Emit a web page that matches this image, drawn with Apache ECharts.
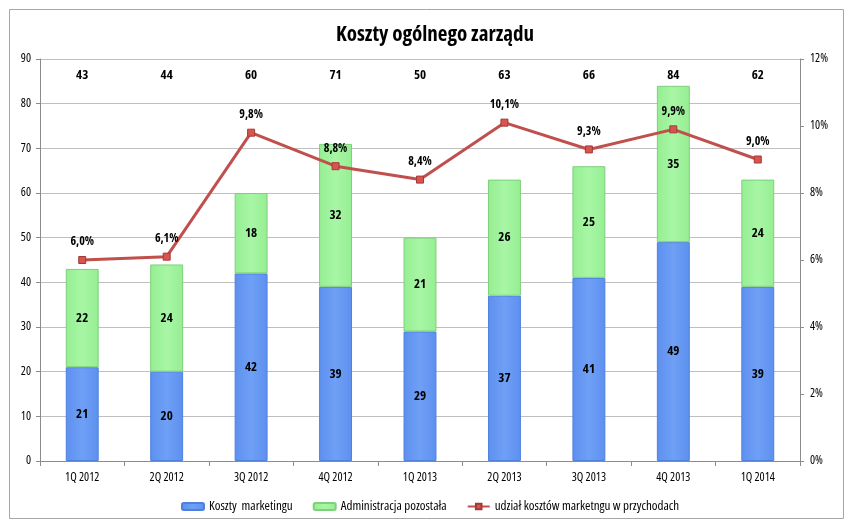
<!DOCTYPE html>
<html>
<head>
<meta charset="utf-8">
<script src="https://cdn.jsdelivr.net/npm/echarts@6/dist/echarts.min.js"></script>
<style>
html,body{margin:0;padding:0;background:#fff;}
#c{width:848px;height:521px;}
</style>
</head>
<body>
<div id="c"></div>
<script>
const categories = ['1Q 2012','2Q 2012','3Q 2012','4Q 2012','1Q 2013','2Q 2013','3Q 2013','4Q 2013','1Q 2014'];
const marketing = [21, 20, 42, 39, 29, 37, 41, 49, 39];
const admin = [22, 24, 18, 32, 21, 26, 25, 35, 24];
const totals = [43, 44, 60, 71, 50, 63, 66, 84, 62];
const share = [6.0, 6.1, 9.8, 8.8, 8.4, 10.1, 9.3, 9.9, 9.0];
const leftTicks = [0, 90, 10];
const rightTicks = [0, 12, 2];

const TOTAL_ROW = 86.4; // height (axis units) where the totals row of labels sits
const FONT = "'Open Sans', sans-serif";
const ST = 'condensed'; // font-stretch keyword passed through the font shorthand

const chart = echarts.init(document.getElementById('c'), null, {renderer:'canvas'});
chart.setOption({
  animation:false,
  backgroundColor:'#ffffff',
  textStyle:{fontFamily:FONT, fontStyle:ST},
  graphic:[{
    type:'rect', shape:{x:9.5,y:9.5,width:834,height:509},
    style:{fill:'none', stroke:'#a6a6a6', lineWidth:1}, z:-10
  }],
  title:{
    text:'Koszty ogólnego zarządu', left:430, textAlign:'center', top:20,
    textStyle:{fontFamily:FONT, fontStyle:ST, fontSize:21, fontWeight:'bold', color:'#000'}
  },
  legend:{
    left:176, top:495, itemWidth:22, itemHeight:7, itemGap:20,
    textStyle:{fontFamily:FONT, fontStyle:ST, fontSize:13, color:'#000'},
    data:[{name:'Koszty  marketingu'},{name:'Administracja pozostała'},{name:'udział kosztów marketngu w przychodach'}]
  },
  grid:{left:40, right:48, top:59, bottom:60},
  xAxis:{
    type:'category', data:categories, boundaryGap:true,
    axisLine:{lineStyle:{color:'#8c8c8c'}},
    axisTick:{show:true, length:5, alignWithLabel:false, lineStyle:{color:'#8c8c8c'}},
    axisLabel:{fontFamily:FONT, fontStyle:ST, fontSize:12, color:'#000', margin:11}
  },
  yAxis:[{
    type:'value', min:leftTicks[0], max:leftTicks[1], interval:leftTicks[2],
    axisLine:{show:true, lineStyle:{color:'#8c8c8c'}},
    axisTick:{show:true, length:4, lineStyle:{color:'#8c8c8c'}},
    splitLine:{lineStyle:{color:'#bfbfbf'}},
    axisLabel:{fontFamily:FONT, fontStyle:ST, fontSize:12, color:'#000', margin:9}
  },{
    type:'value', min:rightTicks[0], max:rightTicks[1], interval:rightTicks[2],
    axisLine:{show:true, lineStyle:{color:'#8c8c8c'}},
    axisTick:{show:true, length:4, lineStyle:{color:'#8c8c8c'}},
    splitLine:{show:false},
    axisLabel:{fontFamily:FONT, fontStyle:ST, fontSize:12, color:'#000', margin:10, formatter:'{value}%'}
  }],
  series:[{
    name:'Koszty  marketingu', type:'bar', stack:'s', barWidth:'39%',
    data:marketing,
    itemStyle:{
      color:new echarts.graphic.LinearGradient(0,0,1,0,[
        {offset:0,color:'#5d8fef'},{offset:0.5,color:'#6fa0f6'},{offset:1,color:'#5d8fef'}]),
      borderColor:'#4f80de', borderWidth:1
    },
    label:{show:true, position:'inside', fontFamily:FONT, fontStyle:ST, fontSize:13, fontWeight:'bold', color:'#000'}
  },{
    name:'Administracja pozostała', type:'bar', stack:'s', barWidth:'39%',
    data:admin,
    itemStyle:{
      color:new echarts.graphic.LinearGradient(0,0,1,0,[
        {offset:0,color:'#95ee92'},{offset:0.5,color:'#a8f6a5'},{offset:1,color:'#95ee92'}]),
      borderColor:'#7fcf7c', borderWidth:1
    },
    label:{show:true, position:'inside', fontFamily:FONT, fontStyle:ST, fontSize:13, fontWeight:'bold', color:'#000'}
  },{
    name:'udział kosztów marketngu w przychodach', type:'line', yAxisIndex:1,
    data:share, symbol:'rect', symbolSize:7, z:5,
    lineStyle:{color:'#c0504d', width:3},
    itemStyle:{color:'#d9534f', borderColor:'#a33a37', borderWidth:1},
    label:{show:true, position:'top', distance:8, fontFamily:FONT, fontStyle:ST, fontSize:12, fontWeight:'bold', color:'#000',
      formatter:p=>p.value.toFixed(1).replace('.',',')+'%'}
  },{
    name:'totals', type:'scatter', symbolSize:1, silent:true,
    data:totals.map((t,i)=>[i, TOTAL_ROW]),
    itemStyle:{color:'rgba(0,0,0,0)', opacity:1},
    label:{show:true, position:'inside', fontFamily:FONT, fontStyle:ST, fontSize:13, fontWeight:'bold', color:'#000',
      formatter:p=>String(totals[p.dataIndex])},
    emphasis:{disabled:true}
  }]
});
</script>
</body>
</html>
